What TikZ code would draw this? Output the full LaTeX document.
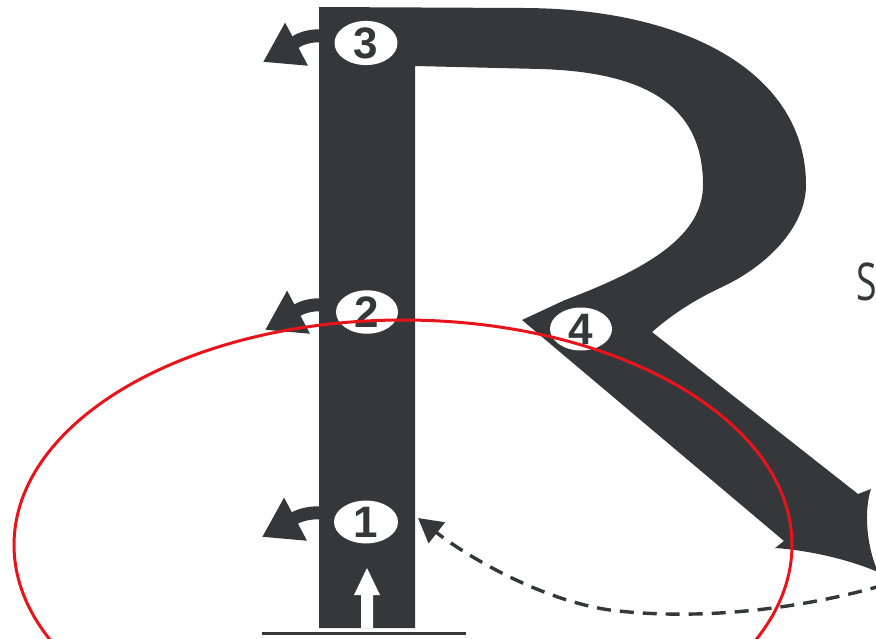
\documentclass[tikz,border=0pt]{standalone}
\usepackage{fontspec}
\usetikzlibrary{shapes.geometric,arrows.meta}
\newfontfamily\numfont{Liberation Sans}
\newfontfamily\sfont{Open Sans}
\definecolor{ink}{HTML}{35373A}
\definecolor{redline}{HTML}{E8141B}
\begin{document}
\begin{tikzpicture}[x=1pt,y=-1pt,
  numell/.style={ellipse, fill=white, inner sep=0pt, text=ink,
    font=\numfont\bfseries\fontsize{44}{44}\selectfont},
  bentarrow/.style={draw=ink, line width=13pt, -{Triangle[length=38pt 0 0,width=46pt 0 0]}},
  dasharrow/.style={draw=ink, line width=3.4pt, dash pattern=on 14pt off 9pt,
    -{Triangle[length=24pt 0 0,width=26pt 0 0]}},
  ringline/.style={draw=redline, line width=3pt}
]
\useasboundingbox (0,0) rectangle (876,638);
\clip (0,0) rectangle (876,638);

% the letter R
\fill[ink] (319,628) -- (319,7) -- (525,8)
  .. controls (690,9) and (806,75) .. (806,185)
  .. controls (806,225) and (770,265) .. (720,288)
  .. controls (690,302) and (668,318) .. (652,332)
  -- (858,494) -- (871,489)
  .. controls (864,510) and (866,545) .. (878,572)
  .. controls (845,558) and (805,550) .. (775,548)
  -- (784,541) -- (522,320) -- (565,300)
  .. controls (650,268) and (703,235) .. (703,185)
  .. controls (703,105) and (645,72) .. (540,69)
  -- (415,66) -- (415,628) -- cycle;

% baseline
\draw[ink, line width=3pt] (262,633) -- (466,633);

% white up arrow in the stem
\fill[white] (361,628) -- (361,595) -- (354,595) -- (367,568) -- (380,595)
  -- (373,595) -- (373,628) -- cycle;

% numbered ellipses
\node[numell, minimum width=63pt, minimum height=41pt] (n3) at (366,43) {3};
\node[numell, minimum width=62pt, minimum height=40pt] (n2) at (367,312) {2};
\node[numell, minimum width=64pt, minimum height=39pt] (n1) at (366,522) {1};
\node[numell, minimum width=62pt, minimum height=43pt] (n4) at (581,329) {4};

% bent arrows leaving the stem
\coordinate (s3) at (324,36);  \coordinate (t3) at (263,62);
\coordinate (s2) at (324,305); \coordinate (t2) at (265,330);
\coordinate (s1) at (324,513); \coordinate (t1) at (262,537);
\draw[bentarrow] (s3) to[out=175,in=28] (t3);
\draw[bentarrow] (s2) to[out=175,in=28] (t2);
\draw[bentarrow] (s1) to[out=175,in=28] (t1);

% dashed return arrow
\coordinate (dstart) at (884,585);
\coordinate (dend) at (418,518);
\draw[dasharrow] (dstart) .. controls (790,612) and (690,620) .. (610,610)
  .. controls (540,600) and (465,555) .. (dend);

% letter at right edge
\node[anchor=base west, inner sep=0pt, text=ink, xscale=0.72,
  font=\sfont\fontsize{52}{52}\selectfont] (sletter) at (856,300) {S};

% red ring
\draw[ringline] (403,545) ellipse [x radius=389pt, y radius=225pt];
\end{tikzpicture}
\end{document}
